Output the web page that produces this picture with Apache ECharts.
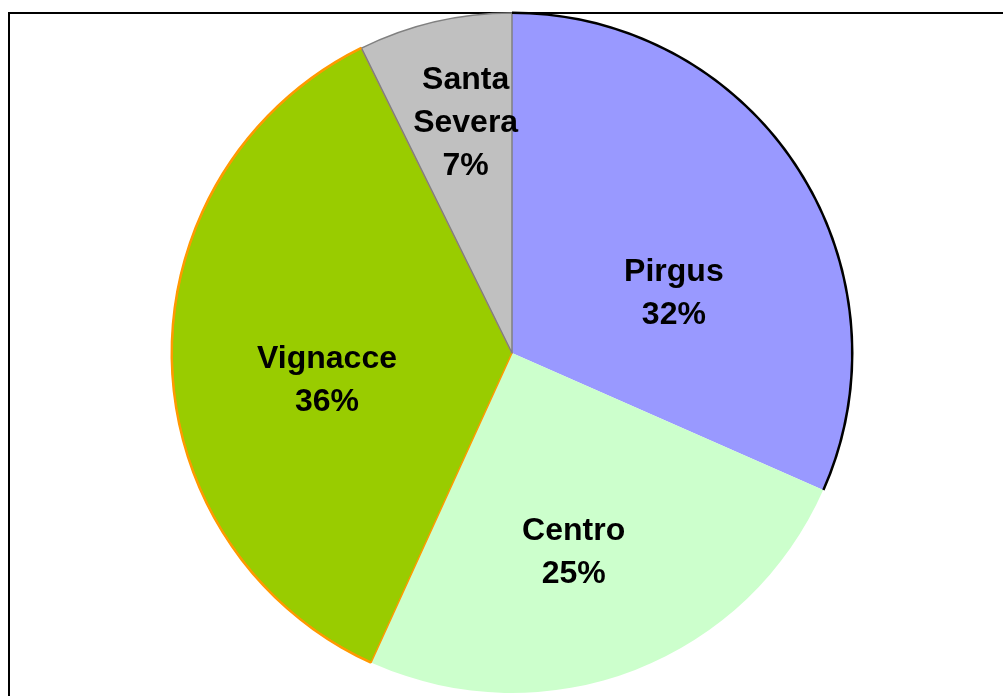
<!DOCTYPE html>
<html>
<head>
<meta charset="utf-8">
<script src="https://cdn.jsdelivr.net/npm/echarts@6/dist/echarts.min.js"></script>
<style>
    html, body { margin: 0; padding: 0; background: #fff; }
    #chart { width: 1003px; height: 696px; }
</style>
</head>
<body>
<div id="chart"></div>
<script>
// dati
var names = ['Pirgus', 'Centro', 'Vignacce', 'Santa Severa'];
var values = [31.6, 25.2, 35.9, 7.3];
var colors = ['#9999FF', '#CCFFCC', '#99CC00', '#C0C0C0'];
var borders = ['transparent', 'transparent', '#FF9900', '#808080'];
var rimColors = ['#000000', 'transparent', '#FF9900', 'transparent'];
// spostamento delle etichette rispetto alla posizione "inside"
var labelOffsets = [[17, 35], [0, 38], [-12, 25], [-7, -61]];

var myChart = echarts.init(document.getElementById('chart'));

var pieData = names.map(function (n, i) {
    return {
        name: n,
        value: values[i],
        itemStyle: {
            color: colors[i],
            borderColor: borders[i],
            borderWidth: borders[i] === 'transparent' ? 0 : 1.5
        },
        label: { offset: labelOffsets[i] }
    };
});

var rimData = names.map(function (n, i) {
    return { name: n, value: values[i], itemStyle: { color: rimColors[i] } };
});

var option = {
    animation: false,
    backgroundColor: '#fff',
    graphic: [{
        type: 'rect',
        shape: { x: 9, y: 13, width: 1100, height: 800 },
        style: { fill: 'none', stroke: '#000', lineWidth: 2 },
        z: 0
    }],
    series: [{
        type: 'pie',
        center: [512, 353],
        radius: 340,
        startAngle: 90,
        clockwise: true,
        z: 2,
        label: {
            show: true,
            position: 'inside',
            color: '#000',
            fontFamily: 'Liberation Sans, Arial, sans-serif',
            fontWeight: 'bold',
            fontSize: 32,
            lineHeight: 43,
            align: 'center',
            formatter: function (p) {
                return p.name.replace(' ', '\n') + '\n' + Math.round(p.percent) + '%';
            }
        },
        labelLine: { show: false },
        emphasis: { disabled: true },
        data: pieData
    }, {
        // bordo esterno sull'arco
        type: 'pie',
        center: [512, 353],
        radius: [339, 341.5],
        startAngle: 90,
        clockwise: true,
        silent: true,
        z: 3,
        label: { show: false },
        labelLine: { show: false },
        data: rimData
    }]
};

myChart.setOption(option);
</script>
</body>
</html>
